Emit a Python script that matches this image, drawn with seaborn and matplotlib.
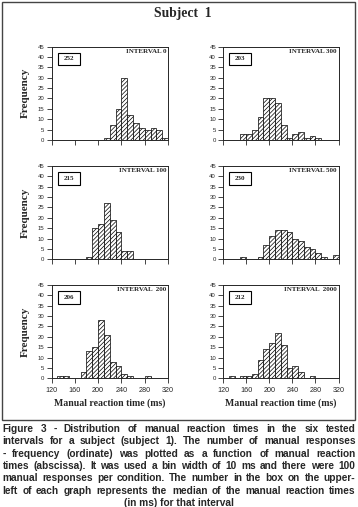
import pandas as pd
import matplotlib
matplotlib.use("Agg")
import matplotlib.pyplot as plt
from matplotlib.patches import Rectangle
import seaborn as sns

# ---- data : left edge of each 10 ms bin and its frequency ----
int0_start = [210, 220, 230, 240, 250, 260, 270, 280, 290, 300, 310]
int0_freq = [1, 7, 15, 30, 12, 8, 6, 5, 6, 5, 1]

int300_start = [150, 160, 170, 180, 190, 200, 210, 220, 230, 240, 250, 260, 270, 280]
int300_freq = [3, 3, 5, 11, 20, 20, 18, 7, 1, 3, 4, 1, 2, 1]

int100_start = [180, 190, 200, 210, 220, 230, 240, 250]
int100_freq = [1, 15, 17, 27, 19, 13, 4, 4]

int500_start = [150, 180, 190, 200, 210, 220, 230, 240, 250, 260, 270, 280, 290, 310]
int500_freq = [1, 1, 7, 11, 14, 14, 13, 10, 9, 6, 5, 3, 1, 2]

int200_start = [130, 140, 170, 180, 190, 200, 210, 220, 230, 240, 250, 280]
int200_freq = [1, 1, 3, 13, 15, 28, 21, 8, 6, 2, 1, 1]

int2000_start = [130, 150, 160, 170, 180, 190, 200, 210, 220, 230, 240, 250, 270]
int2000_freq = [1, 1, 1, 2, 9, 14, 17, 22, 16, 5, 6, 3, 1]

titles = ["INTERVAL 0", "INTERVAL 300", "INTERVAL 100", "INTERVAL 500",
          "INTERVAL  200", "INTERVAL  2000"]
medians = ["252", "203", "215", "230", "206", "212"]
starts = [int0_start, int300_start, int100_start, int500_start, int200_start, int2000_start]
freqs = [int0_freq, int300_freq, int100_freq, int500_freq, int200_freq, int2000_freq]

caption = [
    "Figure 3 - Distribution of manual reaction times in the six tested",
    "intervals for a subject (subject 1). The number of manual responses",
    "- frequency (ordinate) was plotted as a function of manual reaction",
    "times (abscissa). It was used a bin width of 10 ms and there were 100",
    "manual responses per condition. The number in the box on the upper-",
    "left of each graph represents the median of the manual reaction times",
    "(in ms) for that interval",
]

sns.set_style("ticks")
plt.rcParams["font.family"] = ["Liberation Sans", "DejaVu Sans"]
plt.rcParams["hatch.linewidth"] = 0.5

W, H = 358, 507
fig = plt.figure(figsize=(W / 100, H / 100), dpi=100)
serif = ["Liberation Serif", "DejaVu Serif"]

col_x = [51.5, 223]
col_w = [116.5, 115.5]
row_bottom = [140, 259.3, 378.3]
ax_h = 93.5

for i in range(6):
    r, c = i // 2, i % 2
    ax = fig.add_axes([col_x[c] / W, 1 - row_bottom[r] / H, col_w[c] / W, ax_h / H])
    df = pd.DataFrame({"rt": [s + 5 for s in starts[i]], "n": freqs[i]})
    sns.histplot(data=df, x="rt", weights="n", binwidth=10, binrange=(120, 320), ax=ax,
                 color="white", edgecolor="black", linewidth=0.5,
                 hatch="////////", alpha=1)
    ax.set_xlim(120, 320)
    ax.set_ylim(0, 45)
    ax.set_xticks(range(120, 321, 40))
    ax.set_yticks(range(0, 46, 5))
    for sp in ax.spines.values():
        sp.set_linewidth(0.7)
        sp.set_visible(True)
    ax.tick_params(axis="y", length=3.5, width=0.6, labelsize=4.3, pad=1.5)
    ax.tick_params(axis="x", length=3.5, width=0.6, labelsize=5.2, pad=3)
    ax.set_ylabel("")
    if r < 2:
        ax.set_xticklabels([])
        ax.set_xlabel("")
    else:
        ax.set_xlabel("Manual reaction time (ms)", family=serif, fontweight="bold",
                      fontsize=7, labelpad=3)
    if c == 0:
        ax.set_ylabel("Frequency", family=serif, fontweight="bold", fontsize=8, labelpad=6)
    ax.text(0.985, 0.945, titles[i], transform=ax.transAxes, ha="right", va="center",
            family=serif, fontweight="bold", fontsize=5)
    ax.add_patch(Rectangle((0.055, 0.80), 0.19, 0.135, transform=ax.transAxes,
                           fill=False, edgecolor="black", linewidth=0.8))
    ax.text(0.15, 0.868, medians[i], transform=ax.transAxes, ha="center", va="center",
            family=serif, fontweight="bold", fontsize=5)

fig.text(183 / W, 1 - 13.5 / H, "Subject  1", ha="center", va="center",
         family=serif, fontweight="bold", fontsize=9.8)

# outer frame
fig.add_artist(Rectangle((1.5 / W, 1 - 420 / H), 353 / W, 418 / H,
                         transform=fig.transFigure, fill=False,
                         edgecolor="#444444", linewidth=1))

# justified caption
renderer = fig.canvas.get_renderer()
x0, x1 = 2.5, 355.5
for k, line in enumerate(caption):
    y = 1 - (429 + 12.3 * k) / H
    if k == len(caption) - 1:
        fig.text(0.5 * (x0 + x1) / W, y, line, ha="center", va="center",
                 fontweight="bold", fontsize=7.3)
        continue
    words = line.split(" ")
    texts = [fig.text(0, y, w, ha="left", va="center", fontweight="bold", fontsize=7.3)
             for w in words]
    widths = [t.get_window_extent(renderer).width for t in texts]
    gap = (x1 - x0 - sum(widths)) / (len(words) - 1)
    pos = x0
    for t, wd in zip(texts, widths):
        t.set_x(pos / W)
        pos += wd + gap

fig.savefig("out.png", dpi=100)
